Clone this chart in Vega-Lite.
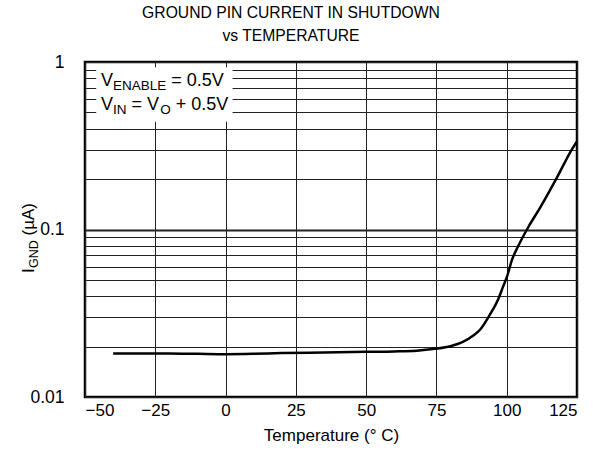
{
  "$schema": "https://vega.github.io/schema/vega-lite/v6.json",
  "width": 492,
  "height": 335,
  "autosize": "none",
  "padding": {"left": 85, "top": 62, "right": 24, "bottom": 65},
  "background": "white",
  "config": {
    "font": "Liberation Sans",
    "view": {"stroke": "black", "strokeWidth": 2.5},
    "title": {"fontWeight": "normal", "font": "Liberation Sans", "color": "black"},
    "axis": {"domain": false, "ticks": false, "labelColor": "black", "titleColor": "black", "labelFont": "Liberation Sans", "titleFont": "Liberation Sans", "titleFontWeight": "normal", "gridColor": "#222", "gridOpacity": 1}
  },
  "title": {
    "text": ["GROUND PIN CURRENT IN SHUTDOWN", "vs TEMPERATURE"],
    "fontSize": 15.7,
    "fontWeight": 400,
    "lineHeight": 23,
    "offset": 8,
    "dx": -40,
    "anchor": "middle",
    "frame": "group"
  },
  "data": {
    "values": [
      {"T": -40, "I": 0.0182},
      {"T": -30, "I": 0.0182},
      {"T": -20, "I": 0.0182},
      {"T": -10, "I": 0.0181},
      {"T": 0, "I": 0.0180},
      {"T": 10, "I": 0.0181},
      {"T": 20, "I": 0.0183},
      {"T": 30, "I": 0.0184},
      {"T": 40, "I": 0.0185},
      {"T": 50, "I": 0.0186},
      {"T": 60, "I": 0.0187},
      {"T": 68, "I": 0.0189},
      {"T": 74.5, "I": 0.0194},
      {"T": 80, "I": 0.0201},
      {"T": 84.4, "I": 0.0213},
      {"T": 88, "I": 0.0232},
      {"T": 90.5, "I": 0.0252},
      {"T": 94, "I": 0.0310},
      {"T": 96.9, "I": 0.0381},
      {"T": 98.7, "I": 0.0456},
      {"T": 100.1, "I": 0.0523},
      {"T": 101.9, "I": 0.0661},
      {"T": 104, "I": 0.0791},
      {"T": 107.6, "I": 0.1028},
      {"T": 112, "I": 0.136},
      {"T": 117.9, "I": 0.2046},
      {"T": 123.2, "I": 0.301},
      {"T": 125, "I": 0.335}
    ]
  },
  "layer": [
    {
      "mark": {"type": "line", "color": "black", "strokeWidth": 2.5, "interpolate": "monotone"},
      "encoding": {
        "x": {
          "field": "T", "type": "quantitative",
          "scale": {"domain": [-50, 125], "nice": false, "zero": false},
          "axis": {"values": [-50, -25, 0, 25, 50, 75, 100, 125], "title": "Temperature (° C)", "labelFontSize": 17, "titleFontSize": 17, "labelPadding": 5, "titlePadding": 9, "gridWidth": 1}
        },
        "y": {
          "field": "I", "type": "quantitative",
          "scale": {"type": "log", "domain": [0.01, 1], "nice": false},
          "axis": {
            "values": [0.01, 0.02, 0.03, 0.04, 0.05, 0.06, 0.07, 0.08, 0.09, 0.1, 0.2, 0.3, 0.4, 0.5, 0.6, 0.7, 0.8, 0.9, 1],
            "format": "~g",
            "labelExpr": "(datum.value == 0.01 || datum.value == 0.1 || datum.value == 1) ? datum.label : ''",
            "labelFontSize": 17.5,
            "labelPadding": 21,
            "title": null,
            "gridWidth": {"condition": {"test": "datum.value == 0.1", "value": 2.2}, "value": 1}
          }
        }
      }
    },
    {
      "data": {"values": [{}]},
      "mark": {"type": "rect", "fill": "white"},
      "encoding": {"x": {"datum": -46}, "x2": {"datum": 2.5}, "y": {"datum": 0.93}, "y2": {"datum": 0.44}}
    },
    {
      "data": {"values": [{}]},
      "mark": {"type": "text", "text": "V", "align": "left", "baseline": "alphabetic", "fontSize": 18, "color": "black"},
      "encoding": {"x": {"datum": -44.3}, "y": {"datum": 0.718}}
    },
    {
      "data": {"values": [{}]},
      "mark": {"type": "text", "text": "ENABLE", "align": "left", "baseline": "alphabetic", "fontSize": 13.5, "dx": 12, "dy": 4, "color": "black"},
      "encoding": {"x": {"datum": -44.3}, "y": {"datum": 0.718}}
    },
    {
      "data": {"values": [{}]},
      "mark": {"type": "text", "text": "= 0.5V", "align": "left", "baseline": "alphabetic", "fontSize": 18, "dx": 70.3, "color": "black"},
      "encoding": {"x": {"datum": -44.3}, "y": {"datum": 0.718}}
    },
    {
      "data": {"values": [{}]},
      "mark": {"type": "text", "text": "V", "align": "left", "baseline": "alphabetic", "fontSize": 18, "color": "black"},
      "encoding": {"x": {"datum": -44.3}, "y": {"datum": 0.516}}
    },
    {
      "data": {"values": [{}]},
      "mark": {"type": "text", "text": "IN", "align": "left", "baseline": "alphabetic", "fontSize": 13.5, "dx": 12, "dy": 4, "color": "black"},
      "encoding": {"x": {"datum": -44.3}, "y": {"datum": 0.516}}
    },
    {
      "data": {"values": [{}]},
      "mark": {"type": "text", "text": "= V", "align": "left", "baseline": "alphabetic", "fontSize": 18, "dx": 30.5, "color": "black"},
      "encoding": {"x": {"datum": -44.3}, "y": {"datum": 0.516}}
    },
    {
      "data": {"values": [{}]},
      "mark": {"type": "text", "text": "O", "align": "left", "baseline": "alphabetic", "fontSize": 13.5, "dx": 59.3, "dy": 4, "color": "black"},
      "encoding": {"x": {"datum": -44.3}, "y": {"datum": 0.516}}
    },
    {
      "data": {"values": [{}]},
      "mark": {"type": "text", "text": "+ 0.5V", "align": "left", "baseline": "alphabetic", "fontSize": 18, "dx": 74.8, "color": "black"},
      "encoding": {"x": {"datum": -44.3}, "y": {"datum": 0.516}}
    },
    {
      "data": {"values": [{}]},
      "mark": {"type": "text", "text": "I", "align": "left", "baseline": "alphabetic", "angle": 270, "fontSize": 17, "color": "black"},
      "encoding": {"x": {"datum": -68.1}, "y": {"datum": 0.055}}
    },
    {
      "data": {"values": [{}]},
      "mark": {"type": "text", "text": "GND", "align": "left", "baseline": "alphabetic", "angle": 270, "fontSize": 12.5, "dx": 5, "dy": 4, "color": "black"},
      "encoding": {"x": {"datum": -68.1}, "y": {"datum": 0.055}}
    },
    {
      "data": {"values": [{}]},
      "mark": {"type": "text", "text": "(µA)", "align": "left", "baseline": "alphabetic", "angle": 270, "fontSize": 17, "dx": 37.5, "color": "black"},
      "encoding": {"x": {"datum": -68.1}, "y": {"datum": 0.055}}
    }
  ]
}
